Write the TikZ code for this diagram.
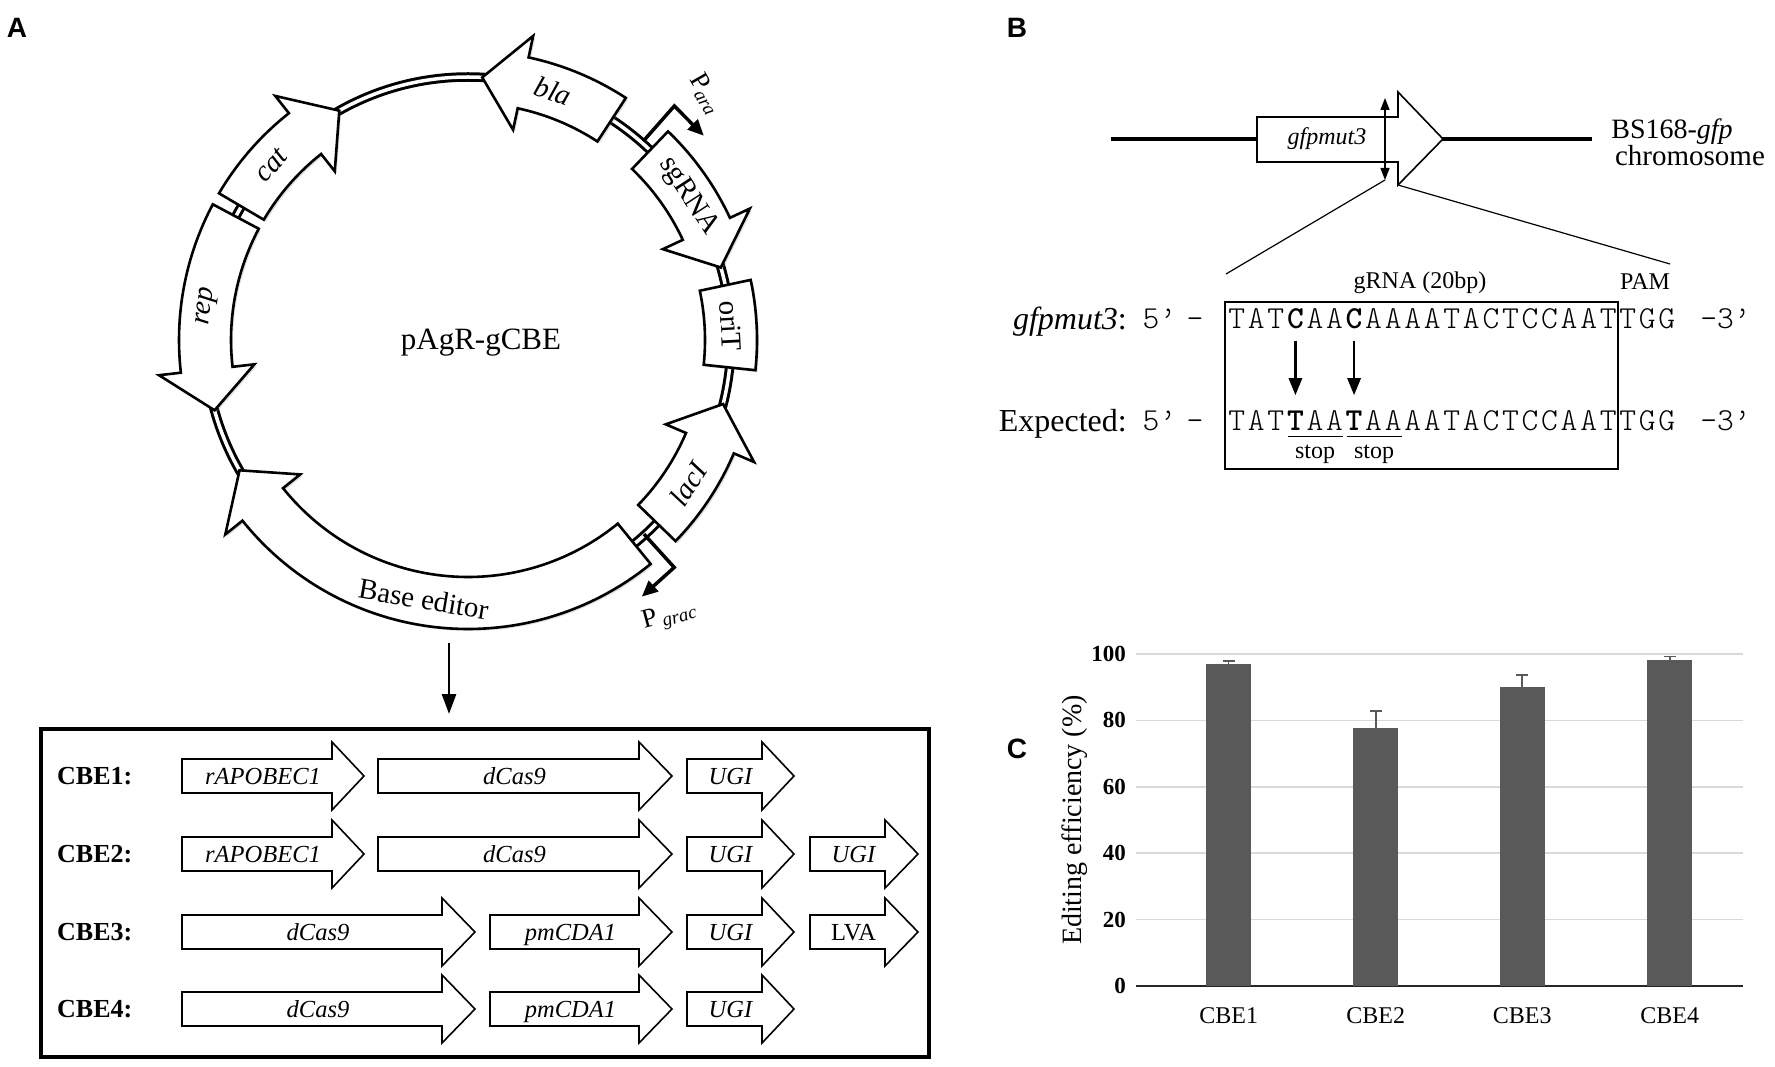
\documentclass[tikz,border=0pt]{standalone}
\usepackage{fontspec}
\setmainfont{Liberation Serif}
\newfontfamily\panelfont{Liberation Sans}
\usepackage{xcolor}
\usetikzlibrary{arrows.meta, calc, shadows}

\definecolor{barfill}{HTML}{595959}
\definecolor{gridgray}{HTML}{D9D9D9}

\begin{document}
\begin{tikzpicture}[x=1pt, y=1pt,
    gene/.style={draw, fill=white, line width=2.6, line join=miter,
      drop shadow={shadow xshift=2pt, shadow yshift=-2pt, opacity=0.25}},
    glbl/.style={font=\fontsize{29}{29}\selectfont\itshape, inner sep=0},
    plbl/.style={font=\fontsize{27}{27}\selectfont, inner sep=0},
    prom/.style={line width=3.5, -{Triangle[length=16, width=14]}},
    cds/.style={draw, fill=white, line width=1.6, line join=miter},
    clbl/.style={font=\fontsize{24.5}{24.5}\selectfont\itshape, anchor=base, inner sep=0},
    rowlbl/.style={font=\fontsize{26}{26}\selectfont\bfseries, anchor=west, inner sep=0},
    panel/.style={font=\panelfont\bfseries\fontsize{28}{28}\selectfont, inner sep=0},
    txt/.style={font=\fontsize{24}{24}\selectfont, anchor=base, inner sep=0},
    seq/.style={font=\ttfamily\fontseries{l}\fontsize{32}{32}\selectfont, anchor=base, inner sep=0},
    tick/.style={font=\fontsize{23}{23}\selectfont\bfseries, anchor=east, inner sep=0}
  ]
  \useasboundingbox (0,0) rectangle (1775,-1067);

  % panel letters
  \node[panel] (lblA) at (17,-28) {A};
  \node[panel] (lblB) at (1017,-28) {B};
  \node[panel] (lblC) at (1017,-749) {C};

  % ---- A: plasmid map
  \coordinate (ctr) at (468,-340);
  \begin{scope}[shift={(ctr)}]
    \draw[double, double distance=3.5, line width=3] (0,0) circle[radius=263];

    \foreach \ta/\tb in {56.9/86.9, 46.2/16, -44.1/-14.1, -50.8/-150.3, 152/195.5, 149.5/119.3} {
      \pgfmathsetmacro\ts{\tb+9*sign(\ta-\tb)}
      \draw[gene] (\ta:289) arc[start angle=\ta, end angle=\ts, radius=289]
        -- (\ts:311) -- (\tb:263) -- (\ts:215) -- (\ts:237)
        arc[start angle=\ts, end angle=\ta, radius=237] -- cycle;
    }
    \draw[gene] (12:289) arc[start angle=12, end angle=-6, radius=289]
      -- (-6:237) arc[start angle=-6, end angle=12, radius=237] -- cycle;

    \node[glbl, rotate=-18.9] (bla) at (71.1:263) {bla};
    \node[glbl, rotate=-56.9] (sgrna) at (33.1:263) {\upshape sgRNA};
    \node[glbl, rotate=-87] (orit) at (3:263) {\upshape oriT};
    \node[glbl, rotate=56.8] (laci) at (-33.2:263) {lacI};
    \node[glbl, rotate=-9.7] (bedit) at (-99.7:263) {\upshape Base editor};
    \node[glbl, rotate=82.7] (rep) at (172.7:263) {rep};
    \node[glbl, rotate=48.4] (cat) at (138.4:263) {cat};

    % promoters
    \draw[prom] (48.6:265) -- (48.6:312) -- (40.9:312);
    \node[plbl, rotate=-60] (para) at (46:342) {P\textsubscript{\itshape ara}};
    \draw[prom] (-47.8:262) -- (-47.8:307) -- (-55.9:310);
    \node[plbl, rotate=15] (pgrac) at (-53.9:342) {P\,\textsubscript{\itshape grac}};
  \end{scope}
  \node[font=\fontsize{31}{31}\selectfont, anchor=base] (pname) at (481,-349) {pAgR-gCBE};

  % ---- A: base editor variants
  \coordinate (pbot) at (449,-643);
  \node[draw, line width=4, minimum width=888, minimum height=328, inner sep=0] (cbebox) at (485,-893) {};
  \draw[line width=2.8, -{Triangle[length=20, width=14]}, shorten >=13] (pbot) -- (pbot |- cbebox.north);

  \foreach \yy [count=\r] in {776,854,932,1009}
    \node[rowlbl] (cbe\r) at (57,-\yy) {CBE\r:};

  \foreach \yy/\xa/\xb/\xc/\lab [count=\k] in {
      776/182/332/364/rAPOBEC1, 776/378/639/672/dCas9, 776/687/762/794/UGI,
      854/182/332/364/rAPOBEC1, 854/378/639/672/dCas9, 854/687/762/794/UGI, 854/810/885/918/UGI,
      932/182/442/475/dCas9, 932/490/639/672/pmCDA1, 932/687/762/794/UGI, 932/810/885/918/\upshape LVA,
      1009/182/442/475/dCas9, 1009/490/639/672/pmCDA1, 1009/687/762/794/UGI} {
    \draw[cds] (\xa,-\yy+17) -- (\xb,-\yy+17) -- (\xb,-\yy+34) -- (\xc,-\yy)
      -- (\xb,-\yy-34) -- (\xb,-\yy-17) -- (\xa,-\yy-17) -- cycle;
    \node[clbl] (cds\k) at ({(\xa+\xb)/2+6},-\yy-8) {\lab};
  }

  % ---- B: chromosome
  \coordinate (chrL) at (1111,-139);
  \coordinate (chrR) at (1592,-139);
  \draw[line width=4.5] (chrL) -- (chrR);
  \draw[cds] (1257,-117) -- (1398,-117) -- (1398,-92) -- (1443,-139)
    -- (1398,-185) -- (1398,-162) -- (1257,-162) -- cycle;
  \node[font=\fontsize{24}{24}\selectfont\itshape, inner sep=0] (gfpgene) at (1327,-139) {gfpmut3};
  \coordinate (cutT) at (1385,-98);
  \coordinate (cutB) at (1385,-180);
  \coordinate (headB) at (1398,-185);
  \coordinate (zoomL) at (1226,-274);
  \coordinate (zoomR) at (1670,-264);
  \draw[line width=1.3, {Triangle[length=12, width=9]}-{Triangle[length=12, width=9]}] (cutT) -- (cutB);
  \draw[line width=1.2] (cutB) -- (zoomL);
  \draw[line width=1.2] (headB) -- (zoomR);
  \node[font=\fontsize{28}{28}\selectfont, anchor=base, inner sep=0] (bs) at (1672,-139) {BS168-\textit{gfp}};
  \node[font=\fontsize{29}{29}\selectfont, anchor=base, inner sep=0] (chrom) at (1690,-166) {chromosome};

  % ---- B: target sequence
  \node[draw, line width=2.5, minimum width=393, minimum height=167, inner sep=0] (seqbox) at (1421.5,-385.5) {};
  \node[txt] (grna) at (1420,-289) {gRNA (20bp)};
  \node[txt] (pam) at (1645,-290) {PAM};
  \node[font=\fontsize{32}{32}\selectfont\itshape, anchor=base east, inner sep=0] (rowa) at (1127,-330) {gfpmut3\upshape:};
  \node[font=\fontsize{32}{32}\selectfont, anchor=base east, inner sep=0] (rowb) at (1127,-431) {Expected:};

  \foreach \ch [count=\i] in {T,A,T,\textbf{C},A,A,\textbf{C},A,A,A,A,T,A,C,T,C,C,A,A,T,T,G,G}
    \node[seq] (sa\i) at ({1227+(\i-0.5)*19.55},-329) {\ch};
  \foreach \ch [count=\i] in {T,A,T,\textbf{T},A,A,\textbf{T},A,A,A,A,T,A,C,T,C,C,A,A,T,T,G,G}
    \node[seq] (sb\i) at ({1227+(\i-0.5)*19.55},-430) {\ch};
  \foreach \yy/\s in {329/a, 430/b} {
    \node[seq] (five\s) at (1159.5,-\yy) {5’};
    \node[seq] (dash\s) at (1195,-\yy) {-};
    \node[seq] (three\s) at (1725.5,-\yy) {-3’};
  }

  \draw[line width=2.8, -{Triangle[length=17, width=13]}, shorten <=11, shorten >=15] (sa4.south) -- (sb4.north);
  \draw[line width=2.8, -{Triangle[length=17, width=13]}, shorten <=11, shorten >=15] (sa7.south) -- (sb7.north);
  \draw[line width=1] (1288,-436) -- (1343,-436);
  \draw[line width=1] (1347,-436) -- (1402,-436);
  \node[txt] (stop1) at (1315,-458) {stop};
  \node[txt] (stop2) at (1374,-458) {stop};

  % ---- C: editing efficiency
  \foreach \v in {20,40,...,100}
    \draw[gridgray, line width=1.5] (1136,{-986+3.32*\v}) -- (1743,{-986+3.32*\v});
  \draw[line width=1.5, black!85] (1136,-986) -- (1743,-986);
  \foreach \v in {0,20,...,100}
    \node[tick] (tk\v) at (1126,{-986+3.32*\v}) {\v};

  \foreach \cx/\val/\err [count=\b] in {1228.7/97/0.9, 1375.8/77.6/5.2, 1522.2/90.1/3.6, 1669.8/98.2/1.0} {
    \fill[barfill] ({\cx-22.5},-986) rectangle ({\cx+22.5},{-986+3.32*\val});
    \draw[barfill, line width=1.5] (\cx,{-986+3.32*\val}) -- (\cx,{-986+3.32*(\val+\err)})
      ++(-6,0) -- ++(12,0);
    \node[txt] (bar\b) at (\cx,-1023) {CBE\b};
  }
  \node[font=\fontsize{28}{28}\selectfont, rotate=90, inner sep=0] (ytitle) at (1075,-820) {Editing efficiency (\%)};
\end{tikzpicture}
\end{document}
